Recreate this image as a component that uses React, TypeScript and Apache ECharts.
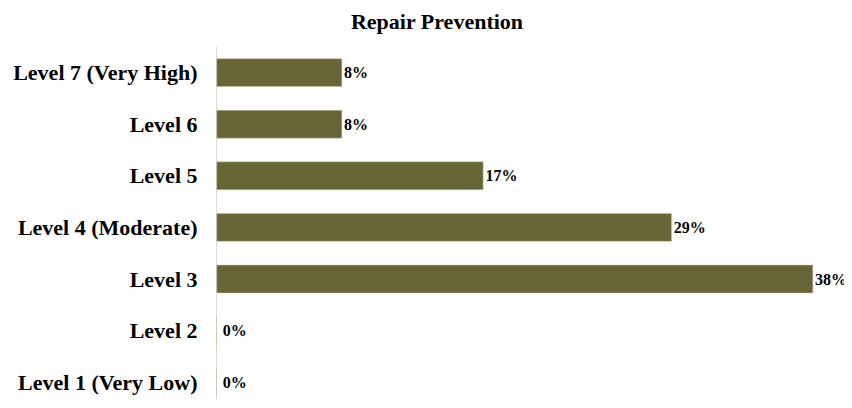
import React, { useEffect, useRef } from "react";
import * as echarts from "echarts";

const title = "Repair Prevention";
const categories = [
  "Level 1 (Very Low)",
  "Level 2",
  "Level 3",
  "Level 4 (Moderate)",
  "Level 5",
  "Level 6",
  "Level 7 (Very High)",
];
const values = [0, 0, 38, 29, 17, 8, 8];

export default function App() {
  const ref = useRef<HTMLDivElement>(null);
  useEffect(() => {
    const chart = echarts.init(ref.current!, null, { renderer: "svg" });
    const font = "'Liberation Serif', 'Times New Roman', serif";
    chart.setOption({
      animation: false,
      title: {
        text: title,
        left: 432,
        textAlign: "center",
        top: 5,
        textStyle: { fontFamily: font, fontWeight: "bold", fontSize: 22, color: "#000" },
      },
      grid: { left: 216.5, right: 7.5, top: 46.8, bottom: -6, containLabel: false },
      xAxis: { type: "value", min: 0, max: 40, show: false },
      yAxis: {
        type: "category",
        data: categories,
        axisLine: { show: true, lineStyle: { color: "#d9d9d9", width: 1 } },
        axisTick: { show: false },
        axisLabel: {
          margin: 19,
          fontFamily: font,
          fontWeight: "bold",
          fontSize: 22,
          color: "#000",
        },
        splitLine: { show: false },
      },
      series: [
        {
          type: "bar",
          data: values,
          barCategoryGap: "45%",
          itemStyle: { color: "#676535", borderColor: "#c9c7a8", borderWidth: 0.5 },
          label: {
            show: true,
            position: "right",
            distance: 2,
            formatter: (p: any) => (p.value === 0 ? " " : "") + p.value + "%",
            fontFamily: font,
            fontWeight: "bold",
            fontSize: 16,
            color: "#000",
          },
        },
      ],
    });
    return () => chart.dispose();
  }, []);
  return <div ref={ref} style={{ width: 852, height: 408, margin: -8 }} />;
}
